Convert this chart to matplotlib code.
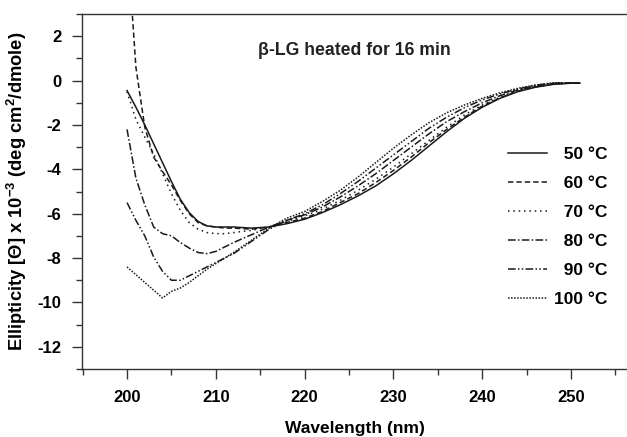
import matplotlib
matplotlib.use("Agg")
import matplotlib.pyplot as plt
from matplotlib.ticker import MultipleLocator

plt.rcParams['font.family'] = ['Liberation Sans', 'DejaVu Sans']
plt.rcParams['font.weight'] = 'bold'
plt.rcParams['mathtext.fontset'] = 'custom'
plt.rcParams['mathtext.rm'] = 'Liberation Sans:bold'
plt.rcParams['mathtext.bf'] = 'Liberation Sans:bold'
plt.rcParams['axes.unicode_minus'] = False

wavelength = [200, 201, 202, 203, 204, 205, 206, 207, 208, 209, 210, 211, 212,
              214, 216, 218, 220, 222, 224, 226, 228, 230, 232, 234, 236, 238,
              240, 242, 244, 246, 248, 250, 251]

t50 = [-0.45, -1.2, -2.0, -2.85, -3.7, -4.55, -5.35, -5.95, -6.35, -6.55, -6.6, -6.6, -6.6,
       -6.65, -6.6, -6.45, -6.25, -5.95, -5.6, -5.2, -4.75, -4.2, -3.6, -2.95, -2.3, -1.7,
       -1.2, -0.8, -0.5, -0.3, -0.17, -0.12, -0.12]
t60 = [6.5, 0.6, -2.1, -3.45, -4.1, -4.7, -5.4, -6.0, -6.4, -6.55, -6.6, -6.65, -6.65,
       -6.7, -6.6, -6.4, -6.2, -5.9, -5.5, -5.1, -4.6, -4.05, -3.45, -2.8, -2.2, -1.65,
       -1.15, -0.78, -0.48, -0.28, -0.16, -0.11, -0.11]
t70 = [-0.5, -1.75, -2.55, -3.3, -4.2, -5.1, -5.85, -6.4, -6.7, -6.85, -6.9, -6.9, -6.85,
       -6.75, -6.6, -6.35, -6.1, -5.8, -5.4, -4.95, -4.45, -3.9, -3.3, -2.7, -2.1, -1.55,
       -1.1, -0.75, -0.45, -0.27, -0.15, -0.1, -0.1]
t80 = [-2.2, -4.4, -5.6, -6.6, -6.9, -7.0, -7.3, -7.55, -7.75, -7.8, -7.7, -7.5, -7.3,
       -6.95, -6.6, -6.3, -6.05, -5.7, -5.25, -4.75, -4.2, -3.6, -3.0, -2.4, -1.85, -1.4,
       -1.0, -0.68, -0.42, -0.24, -0.13, -0.1, -0.1]
t90 = [-5.5, -6.3, -7.0, -7.95, -8.6, -9.0, -9.0, -8.8, -8.6, -8.4, -8.2, -8.0, -7.8,
       -7.25, -6.7, -6.3, -6.0, -5.6, -5.1, -4.55, -3.95, -3.35, -2.75, -2.15, -1.65, -1.22,
       -0.87, -0.6, -0.38, -0.21, -0.12, -0.1, -0.1]
t100 = [-8.4, -8.75, -9.1, -9.45, -9.8, -9.5, -9.35, -9.1, -8.8, -8.5, -8.25, -8.0, -7.75,
        -7.2, -6.65, -6.2, -5.9, -5.45, -4.95, -4.35, -3.7, -3.05, -2.45, -1.9, -1.45, -1.1,
        -0.8, -0.55, -0.35, -0.2, -0.1, -0.1, -0.1]

labels = ["  50 °C", "  60 °C", "  70 °C", "  80 °C", "  90 °C", "100 °C"]
series = [t50, t60, t70, t80, t90, t100]
dashes = [None, (3.5, 2), (1, 2.5), (5, 1.5, 1, 1.5), (5, 1.5, 1, 1.5, 1, 1.5), (1, 1)]

fig = plt.figure(figsize=(6.27, 4.37), dpi=100)
ax = fig.add_axes([82/627, 1 - 369/437, 1 - 82/627, (369 - 14)/437])

color = '#1a1a1a'
for y, lab, d in zip(series, labels, dashes):
    line, = ax.plot(wavelength, y, color=color, lw=1.1, label=lab)
    if d is not None:
        line.set_dashes(d)

ax.set_xlim(194.93, 256.3)
ax.set_ylim(-13, 3)
ax.xaxis.set_major_locator(MultipleLocator(10))
ax.xaxis.set_minor_locator(MultipleLocator(5))
ax.yaxis.set_major_locator(MultipleLocator(2))
ax.yaxis.set_minor_locator(MultipleLocator(1))
ax.tick_params(which='major', length=7, width=1, pad=8, labelsize=12, color='#333333')
ax.tick_params(which='minor', length=4, width=1, color='#333333')
for lab in ax.get_xticklabels() + ax.get_yticklabels():
    lab.set_fontweight('bold')
for s in ['left', 'bottom', 'top']:
    ax.spines[s].set_linewidth(1.0)
    ax.spines[s].set_color('#333333')
ax.spines['right'].set_visible(False)

ax.set_xlabel('Wavelength (nm)', fontsize=12.5, fontweight='bold', labelpad=12)
ax.set_ylabel(r'Ellipticity [Θ] x 10$^{\mathbf{-3}}$ (deg cm$^{\mathbf{2}}$/dmole)',
              fontsize=13.2, fontweight='bold', labelpad=6)

ax.text(214.7, 1.35, 'β-LG heated for 16 min', fontsize=12.7, fontweight='bold',
        ha='left', va='center', color='#222222')

leg = ax.legend(loc='upper left', bbox_to_anchor=(0.768, 0.645), frameon=False,
                prop={'size': 12.5, 'weight': 'bold'}, handlelength=2.3,
                handletextpad=0.4, labelspacing=0.8, borderaxespad=0)

fig.savefig('out.png', dpi=100)
